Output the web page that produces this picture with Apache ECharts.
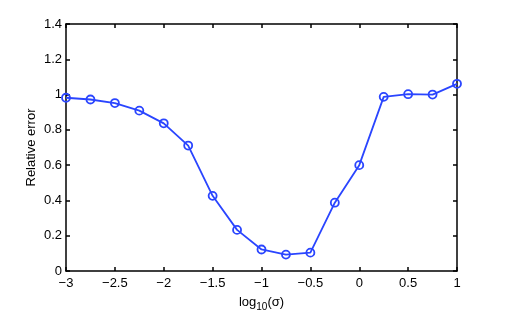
<!DOCTYPE html>
<html>
<head>
<meta charset="utf-8">
<script src="https://cdn.jsdelivr.net/npm/echarts@6/dist/echarts.min.js"></script>
<style>html,body{margin:0;padding:0;background:#fff;}#c{width:505px;height:317px;}</style>
</head>
<body>
<div id="c"></div>
<script>
const logSigma = [-3, -2.75, -2.5, -2.25, -2, -1.75, -1.5, -1.25, -1, -0.75, -0.5, -0.25, 0, 0.25, 0.5, 0.75, 1];
const relativeError = [0.982, 0.972, 0.952, 0.909, 0.837, 0.711, 0.426, 0.233, 0.122, 0.093, 0.104, 0.387, 0.600, 0.987, 1.002, 1.0, 1.061];

const font = 'Liberation Sans, Arial, Helvetica, sans-serif';
const fmt = v => {
  const s = String(Math.round(v * 10) / 10);
  return s.replace('-', '\u2212');
};
const chart = echarts.init(document.getElementById('c'), null, {renderer: 'canvas'});
const axisLine = {show: true, onZero: false, lineStyle: {color: '#000', width: 1.5}};
const tick = {show: true, inside: true, length: 4, lineStyle: {color: '#000', width: 1.5}};
chart.setOption({
  animation: false,
  backgroundColor: '#fff',
  grid: {left: 66, right: 48, top: 24, bottom: 41},
  xAxis: [{
    type: 'value', min: -3, max: 1, interval: 0.5,
    axisLine: axisLine, axisTick: tick, splitLine: {show: false},
    axisLabel: {color: '#000', fontSize: 13, fontFamily: font, margin: 6, formatter: fmt},
    name: '{a|log}{s|10}{a|(σ)}', nameLocation: 'middle', nameGap: 22, nameMoveOverlap: false,
    nameTextStyle: {rich: {a: {fontSize: 13, fontFamily: font, color: '#000'}, s: {fontSize: 10, fontFamily: font, color: '#000', verticalAlign: 'bottom', padding: [9, 0, 0, 0]}}}
  }, {
    type: 'value', min: -3, max: 1, interval: 0.5, position: 'top',
    axisLine: axisLine, axisTick: tick, axisLabel: {show: false}, splitLine: {show: false}
  }],
  yAxis: [{
    type: 'value', min: 0, max: 1.4, interval: 0.2,
    axisLine: axisLine, axisTick: tick, splitLine: {show: false},
    axisLabel: {color: '#000', fontSize: 13, fontFamily: font, margin: 4, formatter: fmt},
    name: 'Relative error', nameLocation: 'middle', nameGap: 28, nameMoveOverlap: false,
    nameTextStyle: {color: '#000', fontSize: 13, fontFamily: font}
  }, {
    type: 'value', min: 0, max: 1.4, interval: 0.2, position: 'right',
    axisLine: axisLine, axisTick: tick, axisLabel: {show: false}, splitLine: {show: false}
  }],
  series: [{
    type: 'line',
    data: logSigma.map((x, i) => [x, relativeError[i]]),
    symbol: 'circle', symbolSize: 8,
    itemStyle: {color: 'rgba(255,255,255,0)', borderColor: '#2a45ff', borderWidth: 1.8},
    lineStyle: {color: '#2a45ff', width: 1.8},
    clip: false
  }]
});
</script>
</body>
</html>
